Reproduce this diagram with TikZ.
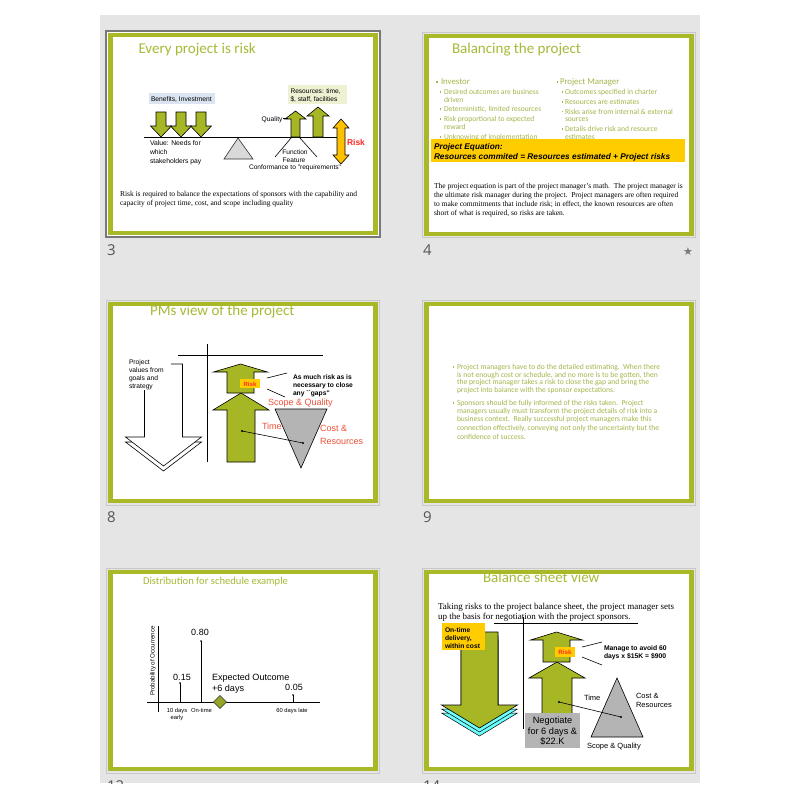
\documentclass[tikz,border=0pt]{standalone}
\usepackage{fontspec}
\setmainfont{Liberation Serif}
\newfontfamily\fCal{Carlito}
\newfontfamily\fAri{Liberation Sans}
\newfontfamily\fTms{Liberation Serif}
\newfontfamily\fSym{DejaVu Sans}
\newfontfamily\fNum{Open Sans}
\usetikzlibrary{shapes.geometric}
\definecolor{sorter}{RGB}{229,229,229}
\definecolor{sgreen}{RGB}{168,184,38}
\definecolor{tgreen}{RGB}{168,185,55}
\definecolor{bgreen}{RGB}{165,180,75}
\definecolor{agreen}{RGB}{166,182,36}
\definecolor{ybox}{RGB}{255,204,0}
\definecolor{riskor}{RGB}{255,192,0}
\definecolor{rred}{RGB}{255,40,40}
\definecolor{ored}{RGB}{236,80,55}
\definecolor{lblue}{RGB}{219,229,241}
\definecolor{lyel}{RGB}{238,241,210}
\definecolor{tgray}{RGB}{180,180,180}
\definecolor{fgray}{RGB}{217,217,217}
\definecolor{cyanc}{RGB}{110,255,255}
\definecolor{numc}{RGB}{85,85,85}
\definecolor{frameg}{RGB}{200,200,200}
\definecolor{dframe}{RGB}{120,120,120}
\definecolor{dia}{RGB}{150,165,40}
\newcommand\vArrow[7][]{%
  \filldraw[#1] ({#2-#4},#3) -- ({#2-#4},#6) -- ({#2-#5},#6) -- (#2,#7) -- ({#2+#5},#6) -- ({#2+#4},#6) -- ({#2+#4},#3) -- cycle;}
\newcommand\slideG[4]{%
  \fill[sgreen] (#1,#2) rectangle (#3,#4);
  \fill[white] ({#1+5},{#2+4}) rectangle ({#3-5},{#4-4});}
\tikzset{
  tx/.style={inner sep=0pt, outer sep=0pt, text height=0.7em, text depth=0.2em, anchor=west},
  ttl/.style={tx, font=\fCal\fontsize{15}{16}\selectfont, text=tgreen},
  ari/.style={tx, font=\fAri\fontsize{#1}{#1}\selectfont},
  arib/.style={tx, font=\fAri\bfseries\fontsize{#1}{#1}\selectfont},
  aribi/.style={tx, font=\fAri\bfseries\itshape\fontsize{#1}{#1}\selectfont},
  tms/.style={tx, font=\fTms\fontsize{#1}{#1}\selectfont},
  cal/.style={tx, font=\fCal\fontsize{#1}{#1}\selectfont, text=bgreen},
  garrow/.style={fill=agreen, draw=black, line width=0.6pt},
  ln/.style={draw=black, line width=0.6pt},
  num/.style={tx, font=\fNum\fontsize{15}{15}\selectfont, text=numc},
}
\begin{document}
\begin{tikzpicture}[x=1pt,y=-1pt]
\useasboundingbox (0,0) rectangle (800,800);
\fill[white] (0,0) rectangle (800,800);
\fill[sorter] (100,15) rectangle (700,783);

% ---------- frames ----------
\draw[dframe, line width=2pt] (106,31) rectangle (380,237);
\fill[white] (107,32) rectangle (379,236);
\slideG{108}{33}{378}{235}
\draw[frameg, line width=0.8pt] (422.5,32.5) rectangle (695,237);
\slideG{424}{34}{694}{236}
\draw[frameg, line width=0.8pt] (106.5,300.5) rectangle (379.5,505);
\slideG{108}{302}{378}{503}
\draw[frameg, line width=0.8pt] (422.5,300.5) rectangle (695,505);
\slideG{424}{302}{694}{503}
\draw[frameg, line width=0.8pt] (106.5,568.5) rectangle (379.5,773);
\slideG{108}{570}{378}{771}
\draw[frameg, line width=0.8pt] (422.5,568.5) rectangle (695,773);
\slideG{424}{570}{694}{771}

% ---------- slide 3 ----------
\node[ttl] (t3) at (138.5,51) {Every project is risk};
\fill[lblue] (149,93) rectangle (215,104);
\node[ari=6.7] (ben) at (151,98.5) {Benefits, Investment};
\vArrow[garrow]{161}{112}{5}{10.5}{126}{137}
\vArrow[garrow]{181}{112}{5}{10.5}{126}{137}
\vArrow[garrow]{201}{112}{5}{10.5}{126}{137}
\draw[black, line width=0.8pt] (144,137) -- (338,137);
\filldraw[fill=fgray, draw=black!80, line width=0.6pt] (238,138) -- (253,159) -- (224,159) -- cycle;
\fill[lyel] (288,85) rectangle (347,104);
\node[ari=6.6] (res1) at (290.5,90.5) {Resources: time,};
\node[ari=6.6] (res2) at (290.5,99) {\$, staff, facilities};
\vArrow[garrow]{295.5}{137}{4.5}{10.5}{119}{111}
\vArrow[garrow]{318}{137}{5}{11}{116}{107}
\node[ari=6.7, anchor=east] (qual) at (282.5,118.5) {Quality};
\draw[ln] (qual.east) ++(0.5,0) -- (288,118.5);
\filldraw[fill=riskor, draw=black, line width=0.6pt] (337,128) -- (333,128) -- (341,119) -- (349,128) -- (345,128) -- (345,155) -- (349,155) -- (341,164) -- (333,155) -- (337,155) -- cycle;
\node[arib=8.5, text=rred] (risk3) at (347,142.5) {Risk};
\draw[ln] (291.5,137.5) -- (275,157);
\draw[ln] (299.5,137.5) -- (317,157);
\node[ari=6.8] (val1) at (150,143) {Value: Needs for};
\node[ari=6.8] (val2) at (150,152) {which};
\node[ari=6.8] (val3) at (150,161) {stakeholders pay};
\node[ari=6.6, anchor=center] (fun) at (295,152) {Function};
\node[ari=6.6, anchor=center] (fea) at (294,159.5) {Feature};
\node[ari=6.6, anchor=center] (con) at (295,167) {Conformance to "requirements"};
\node[tms=7.5] (r3a) at (120,194) {Risk is required to balance the expectations of sponsors with the capability and};
\node[tms=7.5] (r3b) at (120,203) {capacity of project time, cost, and scope including quality};

% ---------- slide 4 ----------
\node[ttl] (t4) at (452,51) {Balancing the project};
\fill[bgreen] (436,81) rectangle ++(1.6,1.6);
\node[cal=8.8] (inv) at (441,82) {Investor};
\fill[bgreen] (440,91.2) rectangle ++(1.3,1.3);
\node[cal=7.55] (i1) at (444,92) {Desired outcomes are business};
\node[cal=7.55] (i1b) at (444,99.5) {driven};
\fill[bgreen] (440,108.2) rectangle ++(1.3,1.3);
\node[cal=7.55] (i2) at (444,109) {Deterministic, limited resources};
\fill[bgreen] (440,118.2) rectangle ++(1.3,1.3);
\node[cal=7.55] (i3) at (444,119) {Risk proportional to expected};
\node[cal=7.55] (i3b) at (444,127) {reward};
\fill[bgreen] (440,136.2) rectangle ++(1.3,1.3);
\node[cal=7.55] (i4) at (444,137) {Unknowing of implementation};
\fill[bgreen] (556.5,81) rectangle ++(1.6,1.6);
\node[cal=8.8] (pm) at (560,82) {Project Manager};
\fill[bgreen] (562,91.2) rectangle ++(1.3,1.3);
\node[cal=7.6] (p1) at (565,92) {Outcomes specified in charter};
\fill[bgreen] (562,101.2) rectangle ++(1.3,1.3);
\node[cal=7.6] (p2) at (565,102) {Resources are estimates};
\fill[bgreen] (562,110.7) rectangle ++(1.3,1.3);
\node[cal=7.6] (p3) at (565,111.5) {Risks arise from internal \& external};
\node[cal=7.6] (p3b) at (565,119) {sources};
\fill[bgreen] (562,128.2) rectangle ++(1.3,1.3);
\node[cal=7.6] (p4) at (565,129) {Details drive risk and resource};
\node[cal=7.6] (p4b) at (565,137) {estimates};
\fill[ybox] (431,139) rectangle (685,162);
\node[aribi=8.3] (eq1) at (434,147) {Project Equation:};
\node[aribi=8.3] (eq2) at (434,157) {Resources commited = Resources estimated + Project risks};
\node[tms=7.5] (b4a) at (434,186) {The project equation is part of the project manager’s math.\ \ The project manager is};
\node[tms=7.5] (b4b) at (434,194.5) {the ultimate risk manager during the project.\ \ Project managers are often required};
\node[tms=7.5] (b4c) at (434,204) {to make commitments that include risk; in effect, the known resources are often};
\node[tms=7.5] (b4d) at (434,213) {short of what is required, so risks are taken.};

% ---------- slide 8 ----------
\node[ttl] (t8) at (150,313) {PMs view of the project};
\draw[ln] (178,355) -- (323,355);
\draw[ln] (207,344) -- (207,462);
\vArrow[fill=white, draw=black, line width=0.6pt]{163.5}{369}{19}{38}{442}{471}
\vArrow[fill=white, draw=black, line width=0.6pt]{163.5}{364}{19}{38}{437}{466}
\fill[white] (125,357) rectangle (171,390);
\node[ari=6.7] (pv1) at (129,362) {Project};
\node[ari=6.7] (pv2) at (129,370) {values from};
\node[ari=6.7] (pv3) at (129,378) {goals and};
\node[ari=6.7] (pv4) at (129,386) {strategy};
\vArrow[garrow]{241}{462}{14}{28}{410}{393}
\vArrow[garrow]{240.5}{393}{13.5}{27}{372}{364}
\fill[ybox] (240,379) rectangle (260,388);
\node[arib=6, text=rred, anchor=center] (rk8) at (250,383.5) {Risk};
\draw[ln] (267,378) -- (287,373);
\draw[ln] (267,389) -- (285,397);
\node[arib=6.7] (am1) at (293,377) {As much risk as is};
\node[arib=6.7] (am2) at (293,385) {necessary to close};
\node[arib=6.7] (am3) at (293,393) {any ``gaps''};
\node[ari=9, text=ored] (sq8) at (268,403) {Scope \& Quality};
\filldraw[fill=tgray, draw=black, line width=0.6pt] (275,409) -- (327,409) -- (301,468) -- cycle;
\node[ari=9, text=ored] (tm8) at (262,427) {Time};
\node[ari=9, text=ored] (cr8a) at (320,429) {Cost \&};
\node[ari=9, text=ored] (cr8b) at (320,442) {Resources};
\fill (242,431) circle (1.1);
\fill (303,443) circle (1.1);
\draw[ln] (242,431) -- (303,443);

% ---------- slide 9 ----------
\fill[bgreen] (453,366.3) rectangle ++(1.3,1.3);
\node[cal=7.6] (s9a) at (457,367) {Project managers have to do the detailed estimating.\ \ When there};
\node[cal=7.6] (s9b) at (457,374.7) {is not enough cost or schedule, and no more is to be gotten, then};
\node[cal=7.6] (s9c) at (457,382.4) {the project manager takes a risk to close the gap and bring the};
\node[cal=7.6] (s9d) at (457,390) {project into balance with the sponsor expectations.};
\fill[bgreen] (453,402.3) rectangle ++(1.3,1.3);
\node[cal=7.6] (s9e) at (457,403) {Sponsors should be fully informed of the risks taken.\ \ Project};
\node[cal=7.6] (s9f) at (457,411) {managers usually must transform the project details of risk into a};
\node[cal=7.6] (s9g) at (457,419.3) {business context.\ \ Really successful project managers make this};
\node[cal=7.6] (s9h) at (457,428) {connection effectively, conveying not only the uncertainty but the};
\node[cal=7.6] (s9i) at (457,436.5) {confidence of success.};

% ---------- slide 12 ----------
\node[ttl, font=\fCal\fontsize{10.6}{11}\selectfont] (t12) at (143,582) {Distribution for schedule example};
\draw[black, line width=0.8pt] (158,626) -- (158,712);
\draw[black, line width=0.8pt] (147,702) -- (320,702);
\node[ari=6.2, rotate=90, anchor=center] (prob) at (152,661) {Probability of Occurrence};
\draw[ln] (180,702) -- (180,683); \fill (180,683) circle (0.9);
\draw[ln] (201,702) -- (201,641); \fill (201,641) circle (0.9);
\draw[ln] (293,702) -- (293,695); \fill (293,695) circle (0.9);
\node[ari=9, anchor=center] (v15) at (182,678) {0.15};
\node[ari=9, anchor=center] (v80) at (200,633) {0.80};
\node[ari=9, anchor=center] (v05) at (294,688) {0.05};
\filldraw[fill=dia, draw=black!80, line width=0.6pt] (220,695.5) -- (226.5,702) -- (220,708.5) -- (213.5,702) -- cycle;
\node[ari=9.1] (eo1) at (212,678) {Expected Outcome};
\node[ari=9.1] (eo2) at (212,688.5) {+6 days};
\node[ari=5.8, anchor=center] (d10) at (177,710) {10 days};
\node[ari=5.8, anchor=center] (d10b) at (177,717) {early};
\node[ari=5.8, anchor=center] (ont) at (201.5,710) {On-time};
\node[ari=5.8, anchor=center] (d60) at (292,710) {60 days late};

% ---------- slide 14 ----------
\node[ttl] (t14) at (483,580) {Balance sheet view};
\node[tms=9] (b14a) at (438,607) {Taking risks to the project balance sheet, the project manager sets};
\node[tms=9] (b14b) at (438,617) {up the basis for negotiation with the project sponsors.};
\draw[ln] (494,623) -- (638,623);
\draw[ln] (523,617) -- (523,729);
\vArrow[fill=cyanc, draw=black, line width=0.5pt]{479.5}{640}{18.5}{38}{713}{736}
\vArrow[fill=cyanc, draw=black, line width=0.5pt]{479.5}{636}{18.5}{38}{709}{732}
\vArrow[garrow]{479.5}{632}{18.5}{38}{705}{728}
\fill[ybox] (442,623) rectangle (485,650);
\node[arib=6.7] (ot1) at (445,630) {On-time};
\node[arib=6.7] (ot2) at (445,638) {delivery,};
\node[arib=6.7] (ot3) at (445,646) {within cost};
\vArrow[garrow]{557}{742}{15}{28}{678}{662}
\vArrow[garrow]{556.5}{662}{13.5}{26}{640}{632}
\fill[ybox] (555,647) rectangle (575,657);
\node[arib=6.2, text=rred, anchor=center] (rk14) at (565,652) {Risk};
\draw[ln] (582,647) -- (602,642);
\draw[ln] (582,657) -- (602,665);
\node[arib=6.8] (mg1) at (604,648) {Manage to avoid 60};
\node[arib=6.8] (mg2) at (604,655.5) {days x \$15K = \$900};
\filldraw[fill=tgray, draw=black, line width=0.6pt] (617,678) -- (643,737) -- (591,737) -- cycle;
\node[ari=7.5] (tm14) at (584,698) {Time};
\node[ari=7.5] (cr14a) at (636,696) {Cost \&};
\node[ari=7.5] (cr14b) at (636,705) {Resources};
\node[ari=7.5] (sq14) at (587,746) {Scope \& Quality};
\fill (559,702) circle (1.1);
\fill (621,717) circle (1.1);
\draw[ln] (559,702) -- (621,717);
\fill[tgray] (525,713) rectangle (580,748);
\node[ari=9.2, anchor=center] (ng1) at (552.5,721) {Negotiate};
\node[ari=9.2, anchor=center] (ng2) at (552.5,731.5) {for 6 days \&};
\node[ari=9.2, anchor=center] (ng3) at (552.5,742) {\$22.K};

% ---------- slide numbers ----------
\node[num] (n3) at (107,252.5) {3};
\node[num] (n4) at (423,252.5) {4};
\node[num] (n8) at (107,520) {8};
\node[num] (n9) at (423,520) {9};
\node[tx, font=\fSym\fontsize{11}{11}\selectfont, text=numc!80, anchor=center] (star) at (688,253) {★};
\begin{scope}
\clip (100,700) rectangle (700,783);
\node[num] (n12) at (107,789) {12};
\node[num] (n14) at (423,789) {14};
\end{scope}
\end{tikzpicture}
\end{document}
